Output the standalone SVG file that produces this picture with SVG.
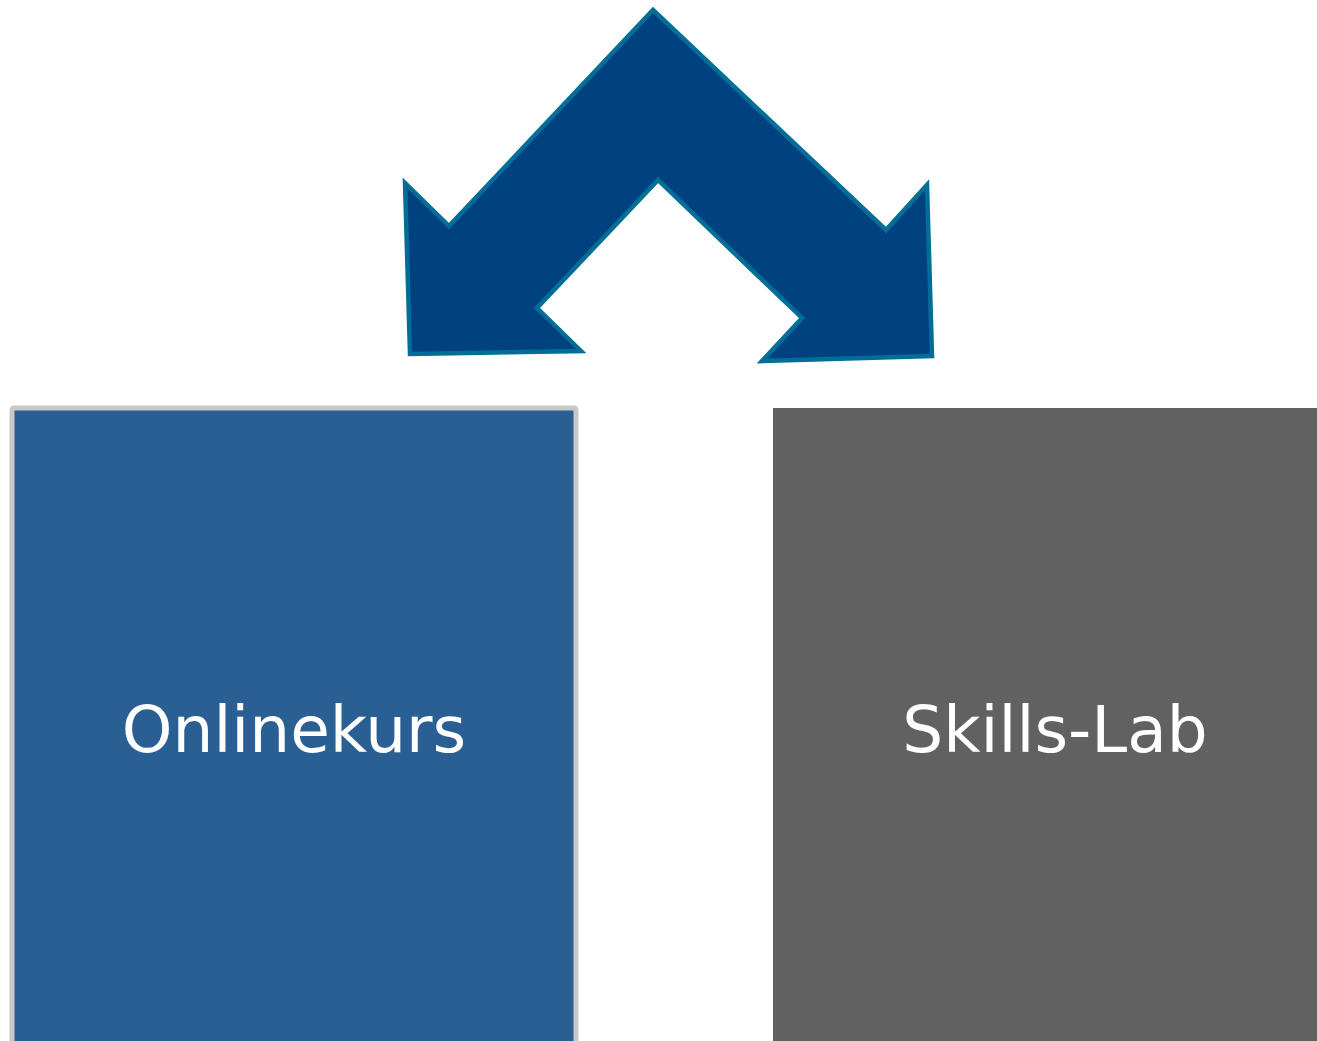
<svg xmlns="http://www.w3.org/2000/svg" width="1317" height="1041" viewBox="0 0 1317 1041">
<style>
.lbl{font-family:"DejaVu Sans","Verdana",sans-serif;font-size:64.5px;fill:#ffffff;text-anchor:middle}
</style>
<rect width="1317" height="1041" fill="#ffffff"/>
<g id="connectors">
<polygon points="653,10 886,230 927,185 932,356 762,361 802,318 658,180 537,308 581,351 410,354 405,183 449,226" fill="#00427f" stroke="#006e96" stroke-width="4.5" stroke-linejoin="miter"/>
</g>
<g id="onlinekurs">
<rect x="12" y="408" width="564" height="640" rx="2" fill="#2a5f93" stroke="#c8c8c8" stroke-width="5"/>
<text class="lbl" x="294" y="752">Onlinekurs</text>
</g>
<g id="skillslab">
<rect x="773" y="408" width="544" height="633" fill="#616161"/>
<text class="lbl" x="1055" y="752">Skills-Lab</text>
</g>
</svg>
